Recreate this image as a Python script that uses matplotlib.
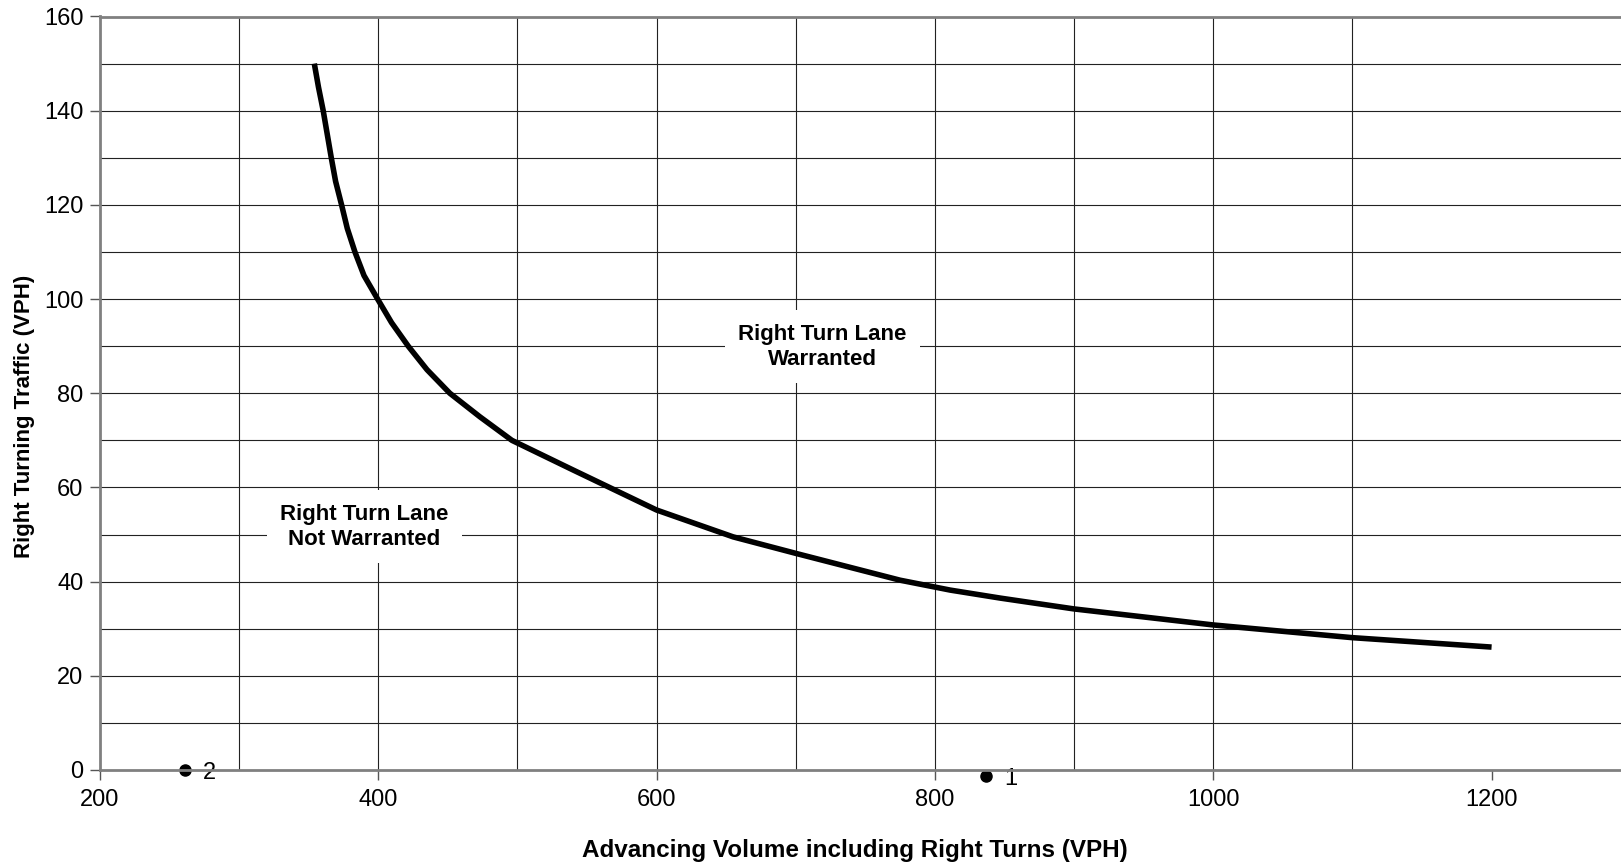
import matplotlib
matplotlib.use("Agg")
import matplotlib.pyplot as plt
from matplotlib.ticker import FixedLocator

plt.rcParams['font.family'] = ['Liberation Sans', 'DejaVu Sans']

# warrant curve
volume = [354, 357, 360.4, 363.3, 366.2, 369.3, 373.6, 377.7, 383.2, 389.7,
          399.5, 409.5, 421.5, 435, 451.4, 473, 496, 540, 600, 655,
          700, 775, 811, 847, 900, 1000, 1100, 1200]
right_turns = [150, 145, 140, 135, 130, 125, 120, 115, 110, 105,
               100, 95, 90, 85, 80, 75, 70, 63.7, 55.2, 49.5,
               46, 40.3, 38.2, 36.5, 34.2, 30.8, 28.1, 26.1]

# surveyed approaches
pt_x = [837, 261]
pt_y = [-1.3, 0]
pt_names = ['1', '2']

x_ticks = [200, 400, 600, 800, 1000, 1200]
x_grid = [300, 400, 500, 600, 700, 800, 900, 1000, 1100]
y_ticks = [0, 20, 40, 60, 80, 100, 120, 140, 160]

W, H = 1621, 864
fig = plt.figure(figsize=(W / 100, H / 100), dpi=100)
ax = fig.add_axes([100 / W, 94 / H, 1521 / W, 753.5 / H])

ax.set_xlim(200, 1293)
ax.set_ylim(0, 160)

# grid
for gx in x_grid:
    ax.axvline(gx, color='#222222', lw=0.8, zorder=1)
for gy in range(10, 160, 10):
    ax.axhline(gy, color='#222222', lw=0.8, zorder=1)

ax.plot(volume, right_turns, color='black', lw=4, solid_capstyle='butt',
        solid_joinstyle='round', zorder=3)

ax.plot(pt_x, pt_y, 'o', color='black', ms=8, clip_on=False, zorder=5)
for x, y, n in zip(pt_x, pt_y, pt_names):
    ax.annotate(n, (x, y), xytext=(13, -2), textcoords='offset points',
                ha='left', va='center', fontsize=17, annotation_clip=False)

box = dict(facecolor='white', edgecolor='none', boxstyle='square,pad=0.6')
ax.text(390, 51.7, 'Right Turn Lane\nNot Warranted', ha='center', va='center',
        fontsize=16, fontweight='bold', linespacing=1.25, bbox=box, zorder=4)
ax.text(719, 89.9, 'Right Turn Lane\nWarranted', ha='center', va='center',
        fontsize=16, fontweight='bold', linespacing=1.25, bbox=box, zorder=4)

ax.xaxis.set_major_locator(FixedLocator(x_ticks))
ax.yaxis.set_major_locator(FixedLocator(y_ticks))
ax.tick_params(axis='both', direction='out', length=7, width=1, color='#555555',
               labelsize=17)
ax.tick_params(axis='x', pad=7)
ax.tick_params(axis='y', pad=5)

for s in ['left', 'bottom', 'top']:
    ax.spines[s].set_color('#808080')
    ax.spines[s].set_linewidth(2)
    ax.spines[s].set_zorder(6)
ax.spines['right'].set_visible(False)

fig.text(855 / W, 1 - 851 / H, 'Advancing Volume including Right Turns (VPH)',
         ha='center', va='center', fontsize=17.5, fontweight='bold')
fig.text(25 / W, 1 - 416 / H, 'Right Turning Traffic (VPH)', rotation=90,
         ha='center', va='center', fontsize=16, fontweight='bold')

fig.savefig('out.png', dpi=100)
